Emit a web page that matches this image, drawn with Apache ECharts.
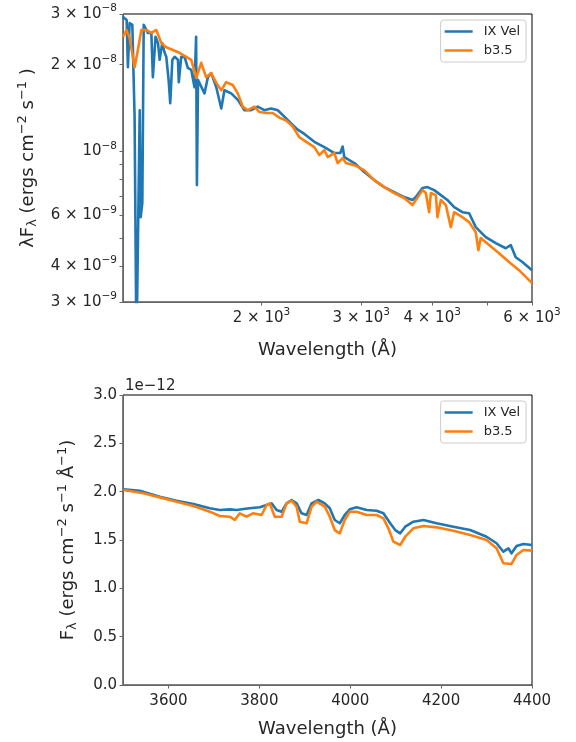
<!DOCTYPE html>
<html>
<head>
<meta charset="utf-8">
<script src="https://cdn.jsdelivr.net/npm/echarts@6/dist/echarts.min.js"></script>
<style>
  html, body { margin: 0; padding: 0; background: #fff; }
  #chart { width: 576px; height: 742px; }
</style>
</head>
<body>
<div id="chart"></div>
<script>
// UV-optical spectrum, log-log (top panel)
const ixVelWave = [1138, 1157, 1163, 1171, 1184, 1195, 1204, 1211, 1220, 1225, 1233, 1240, 1250, 1261, 1279, 1287, 1301, 1314, 1323, 1337, 1350, 1359, 1372, 1381, 1393, 1406, 1425, 1430, 1444, 1464, 1483, 1504, 1524, 1534, 1539, 1546, 1556, 1587, 1609, 1631, 1665, 1699, 1721, 1769, 1817, 1867, 1918, 1970, 2024, 2080, 2137, 2195, 2256, 2317, 2381, 2479, 2582, 2689, 2755, 2781, 2800, 2916, 3036, 3162, 3293, 3429, 3571, 3693, 3744, 3846, 3925, 4033, 4144, 4256, 4374, 4523, 4648, 4775, 4973, 5179, 5393, 5503, 5616, 5769, 6000];
const ixVelFlux = [2.94e-8, 2.86e-8, 1.96e-8, 2.79e-8, 2.75e-8, 1.32e-8, 2.0e-9, 2.0e-9, 1.39e-8, 5.91e-9, 6.61e-9, 2.75e-8, 2.79e-8, 2.58e-8, 2.58e-8, 1.81e-8, 2.50e-8, 2.38e-8, 2.08e-8, 2.38e-8, 2.20e-8, 2.13e-8, 1.77e-8, 1.47e-8, 2.08e-8, 2.13e-8, 2.08e-8, 1.74e-8, 2.13e-8, 2.13e-8, 1.95e-8, 1.92e-8, 1.67e-8, 2.50e-8, 7.64e-9, 1.77e-8, 1.77e-8, 1.59e-8, 1.81e-8, 1.87e-8, 1.67e-8, 1.41e-8, 1.63e-8, 1.59e-8, 1.51e-8, 1.39e-8, 1.39e-8, 1.43e-8, 1.39e-8, 1.41e-8, 1.39e-8, 1.32e-8, 1.25e-8, 1.19e-8, 1.15e-8, 1.08e-8, 1.035e-8, 9.87e-9, 9.87e-9, 1.04e-8, 9.56e-9, 9.11e-9, 8.48e-9, 7.95e-9, 7.52e-9, 7.22e-9, 6.94e-9, 6.78e-9, 6.94e-9, 7.46e-9, 7.52e-9, 7.34e-9, 7.05e-9, 6.78e-9, 6.41e-9, 6.15e-9, 6.10e-9, 5.46e-9, 5.04e-9, 4.80e-9, 4.61e-9, 4.73e-9, 4.29e-9, 4.13e-9, 3.87e-9];

const b35Wave = [1140, 1156, 1171, 1195, 1211, 1228, 1253, 1279, 1305, 1332, 1359, 1396, 1434, 1474, 1504, 1535, 1566, 1598, 1631, 1665, 1699, 1733, 1780, 1817, 1854, 1892, 1944, 1984, 2039, 2094, 2151, 2211, 2271, 2333, 2381, 2479, 2530, 2582, 2617, 2689, 2725, 2781, 2819, 2916, 3036, 3162, 3293, 3429, 3571, 3693, 3795, 3846, 3899, 3952, 3979, 4061, 4087, 4144, 4229, 4315, 4374, 4523, 4648, 4775, 4826, 4873, 5040, 5249, 5465, 5692, 6000];
const b35Flux = [2.50e-8, 2.64e-8, 2.48e-8, 1.96e-8, 2.25e-8, 2.64e-8, 2.64e-8, 2.58e-8, 2.64e-8, 2.38e-8, 2.30e-8, 2.25e-8, 2.20e-8, 2.13e-8, 2.08e-8, 1.80e-8, 2.03e-8, 1.81e-8, 1.87e-8, 1.73e-8, 1.63e-8, 1.74e-8, 1.70e-8, 1.59e-8, 1.43e-8, 1.39e-8, 1.43e-8, 1.37e-8, 1.36e-8, 1.36e-8, 1.31e-8, 1.28e-8, 1.22e-8, 1.12e-8, 1.09e-8, 1.035e-8, 9.71e-9, 1.01e-8, 9.56e-9, 9.87e-9, 9.11e-9, 9.48e-9, 9.11e-9, 8.96e-9, 8.61e-9, 7.95e-9, 7.52e-9, 7.17e-9, 6.89e-9, 6.51e-9, 7.05e-9, 7.34e-9, 7.17e-9, 6.15e-9, 7.17e-9, 7.05e-9, 5.91e-9, 6.78e-9, 6.51e-9, 5.46e-9, 6.15e-9, 5.91e-9, 5.68e-9, 5.24e-9, 4.54e-9, 5.00e-9, 4.73e-9, 4.43e-9, 4.13e-9, 3.87e-9, 3.49e-9];

// optical zoom (bottom panel), flux in units of 1e-12
const ixVelOptWave = [3501, 3537, 3581, 3618, 3655, 3691, 3713, 3735, 3750, 3765, 3779, 3801, 3816, 3827, 3838, 3849, 3860, 3871, 3882, 3893, 3904, 3915, 3930, 3944, 3955, 3966, 3977, 3988, 3999, 4014, 4036, 4058, 4073, 4088, 4099, 4110, 4121, 4139, 4161, 4190, 4227, 4264, 4300, 4322, 4337, 4348, 4355, 4366, 4381, 4400];
const ixVelOptFlux = [2.024, 2.010, 1.948, 1.906, 1.872, 1.828, 1.810, 1.817, 1.810, 1.821, 1.828, 1.838, 1.862, 1.879, 1.810, 1.793, 1.879, 1.914, 1.879, 1.776, 1.759, 1.879, 1.914, 1.879, 1.828, 1.707, 1.673, 1.759, 1.817, 1.838, 1.810, 1.803, 1.776, 1.673, 1.603, 1.569, 1.638, 1.689, 1.707, 1.673, 1.638, 1.603, 1.534, 1.466, 1.379, 1.414, 1.362, 1.438, 1.459, 1.448];
const b35OptWave = [3501, 3545, 3581, 3618, 3655, 3691, 3713, 3735, 3746, 3757, 3772, 3786, 3805, 3816, 3823, 3834, 3849, 3860, 3871, 3882, 3889, 3904, 3915, 3926, 3944, 3955, 3966, 3977, 3988, 3999, 4014, 4036, 4058, 4073, 4084, 4095, 4110, 4121, 4139, 4161, 4190, 4227, 4264, 4300, 4322, 4337, 4355, 4366, 4381, 4400];
const b35OptFlux = [2.017, 1.983, 1.941, 1.896, 1.852, 1.793, 1.748, 1.741, 1.707, 1.776, 1.741, 1.776, 1.759, 1.862, 1.879, 1.741, 1.741, 1.879, 1.906, 1.845, 1.689, 1.673, 1.845, 1.896, 1.845, 1.741, 1.603, 1.569, 1.707, 1.793, 1.793, 1.759, 1.759, 1.724, 1.621, 1.483, 1.448, 1.534, 1.621, 1.645, 1.631, 1.596, 1.552, 1.500, 1.414, 1.259, 1.252, 1.345, 1.397, 1.390];

// ticks
const topXTicks = [2000, 3000, 4000, 5000, 6000];
const topXLabelValues = [2000, 3000, 4000, 6000];
const topXMantissa = ["2", "3", "4", "6"];
const topXExponent = [3, 3, 3, 3];
const topYTicks = [3e-9, 4e-9, 5e-9, 6e-9, 7e-9, 8e-9, 9e-9, 1e-8, 2e-8, 3e-8];
const topYLabelValues = [3e-9, 4e-9, 6e-9, 1e-8, 2e-8, 3e-8];
const topYMantissa = ["3", "4", "6", "", "2", "3"];
const topYExponent = [-9, -9, -9, -8, -8, -8];
const bottomXTicks = [3600, 3800, 4000, 4200, 4400];

const seriesNames = ["IX Vel", "b3.5"];
const blue = "#1f77b4";
const orange = "#ff7f0e";
const textColor = "#262626";
const spineColor = "#666666";
const font = "DejaVu Sans";

function sciLabel(mantissa, exponent) {
  const exp = (exponent < 0 ? "\u2212" : "") + Math.abs(exponent);
  const base = mantissa ? mantissa + " \u00d7 10" : "10";
  return "{b|" + base + "}{s|" + exp + "}";
}

function lookupLabel(value, values, mantissa, exponent) {
  const i = values.findIndex((t) => Math.abs(Math.log10(value / t)) < 1e-6);
  return i < 0 ? "" : sciLabel(mantissa[i], exponent[i]);
}

const richTick = {
  b: { fontSize: 15, lineHeight: 18, verticalAlign: "middle", color: textColor, fontFamily: font },
  s: { fontSize: 10.5, lineHeight: 11, padding: [0, 0, 11, 0], verticalAlign: "middle", color: textColor, fontFamily: font },
};

const richName = {
  n: { fontSize: 18, lineHeight: 22, verticalAlign: "middle", color: textColor, fontFamily: font },
  sub: { fontSize: 13, lineHeight: 13, padding: [9, 0, 0, 0], verticalAlign: "middle", color: textColor, fontFamily: font },
  sup: { fontSize: 13, lineHeight: 13, padding: [0, 0, 11, 0], verticalAlign: "middle", color: textColor, fontFamily: font },
};

const axisLine = { show: true, lineStyle: { color: spineColor, width: 1 } };
const axisTick = { show: true, inside: false, length: 3.5, lineStyle: { color: spineColor, width: 1 } };

function legendAt(top) {
  return {
    data: seriesNames,
    orient: "vertical",
    right: 50,
    top: top,
    icon: "rect",
    itemWidth: 28,
    itemHeight: 2.5,
    itemGap: 6,
    padding: [5, 6, 5, 4],
    backgroundColor: "rgba(255,255,255,0.8)",
    borderColor: "#cccccc",
    borderWidth: 1,
    borderRadius: 3,
    textStyle: { fontSize: 13, color: textColor, fontFamily: font, padding: [0, 0, 0, 6] },
  };
}

function lineSeries(name, color, wave, flux, axisIndex) {
  return {
    name: name,
    type: "line",
    xAxisIndex: axisIndex,
    yAxisIndex: axisIndex,
    data: wave.map((w, i) => [w, flux[i]]),
    showSymbol: false,
    clip: true,
    lineStyle: { color: color, width: 2.6, join: "round" },
    itemStyle: { color: color },
  };
}

const chart = echarts.init(document.getElementById("chart"), null, { renderer: "canvas" });

const option = {
  animation: false,
  textStyle: { fontFamily: font },
  grid: [
    { left: 123, top: 14, width: 409, height: 288, show: true, borderColor: "#000", borderWidth: 1, outerBoundsMode: "none" },
    { left: 123, top: 395, width: 409, height: 290, show: true, borderColor: "#000", borderWidth: 1, outerBoundsMode: "none" },
  ],
  legend: [legendAt(20), legendAt(401)],
  graphic: [
    {
      type: "text",
      left: 125,
      top: 379,
      style: { text: "1e\u221212", fontSize: 15, fill: textColor, fontFamily: font },
    },
  ],
  xAxis: [
    {
      gridIndex: 0,
      type: "log",
      logBase: 10,
      min: 1140,
      max: 6000,
      name: "Wavelength (\u00c5)",
      nameLocation: "middle",
      nameGap: 39,
      nameMoveOverlap: false,
      nameTextStyle: { fontSize: 18, color: textColor, fontFamily: font },
      axisLine: axisLine,
      axisTick: Object.assign({}, axisTick, { customValues: topXTicks }),
      splitLine: { show: false },
      minorTick: { show: false },
      axisLabel: {
        customValues: topXLabelValues,
        margin: 7,
        rich: richTick,
        formatter: (v) => lookupLabel(v, topXLabelValues, topXMantissa, topXExponent),
      },
    },
    {
      gridIndex: 1,
      type: "value",
      min: 3500,
      max: 4400,
      name: "Wavelength (\u00c5)",
      nameLocation: "middle",
      nameGap: 35,
      nameMoveOverlap: false,
      nameTextStyle: { fontSize: 18, color: textColor, fontFamily: font },
      axisLine: axisLine,
      axisTick: Object.assign({}, axisTick, { customValues: bottomXTicks }),
      splitLine: { show: false },
      axisLabel: {
        customValues: bottomXTicks,
        margin: 9,
        fontSize: 15,
        color: textColor,
        fontFamily: font,
        formatter: (v) => String(Math.round(v)),
      },
    },
  ],
  yAxis: [
    {
      gridIndex: 0,
      type: "log",
      logBase: 10,
      min: 3e-9,
      max: 3e-8,
      name: "{n|\u03bbF}{sub|\u03bb}{n| (ergs cm}{sup|\u22122}{n| s}{sup|\u22121}{n| )}",
      nameLocation: "middle",
      nameGap: 84,
      nameMoveOverlap: false,
      nameTextStyle: { fontSize: 18, color: textColor, fontFamily: font, rich: richName },
      axisLine: axisLine,
      axisTick: Object.assign({}, axisTick, { customValues: topYTicks }),
      splitLine: { show: false },
      minorTick: { show: false },
      axisLabel: {
        customValues: topYLabelValues,
        margin: 6,
        rich: richTick,
        formatter: (v) => lookupLabel(v, topYLabelValues, topYMantissa, topYExponent),
      },
    },
    {
      gridIndex: 1,
      type: "value",
      min: 0,
      max: 3,
      interval: 0.5,
      name: "{n|F}{sub|\u03bb}{n| (ergs cm}{sup|\u22122}{n| s}{sup|\u22121}{n| \u00c5}{sup|\u22121}{n|)}",
      nameLocation: "middle",
      nameGap: 44,
      nameMoveOverlap: false,
      nameTextStyle: { fontSize: 18, color: textColor, fontFamily: font, rich: richName },
      axisLine: axisLine,
      axisTick: axisTick,
      splitLine: { show: false },
      axisLabel: {
        margin: 6,
        fontSize: 15,
        color: textColor,
        fontFamily: font,
        formatter: (v) => v.toFixed(1),
      },
    },
  ],
  series: [
    lineSeries(seriesNames[0], blue, ixVelWave, ixVelFlux, 0),
    lineSeries(seriesNames[1], orange, b35Wave, b35Flux, 0),
    lineSeries(seriesNames[0], blue, ixVelOptWave, ixVelOptFlux, 1),
    lineSeries(seriesNames[1], orange, b35OptWave, b35OptFlux, 1),
  ],
};

chart.setOption(option);
</script>
</body>
</html>
